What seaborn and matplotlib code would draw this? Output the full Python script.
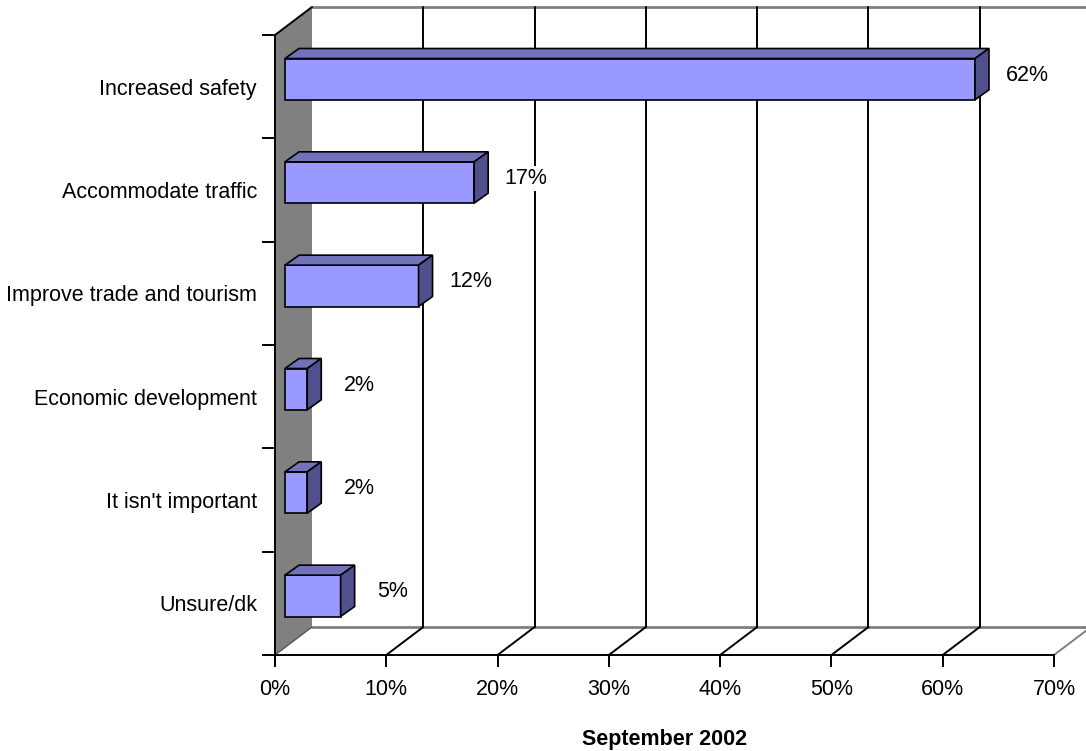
import matplotlib
matplotlib.use("Agg")
import matplotlib.pyplot as plt
import matplotlib.transforms as mtransforms
from matplotlib.patches import Polygon
import pandas as pd
import seaborn as sns

# chart data
categories = ["Increased safety", "Accommodate traffic", "Improve trade and tourism",
              "Economic development", "It isn't important", "Unsure/dk"]
values = [62, 17, 12, 2, 2, 5]
x_ticks = [0, 10, 20, 30, 40, 50, 60, 70]
x_title = "September 2002"

FRONT = "#9999FF"
TOP = "#7272BA"
SIDE = "#50508C"
WALL = "#808080"
FS = 15.5

sns.set_theme(style="white")
plt.rcParams["font.family"] = ["Liberation Sans", "DejaVu Sans"]

fig = plt.figure(figsize=(10.86, 7.51), dpi=100)
fig.patch.set_facecolor("white")
ax = fig.add_axes([275 / 1086, 96 / 751, 779 / 1086, 620 / 751])
ax.set_facecolor("none")

df = pd.DataFrame({"category": categories, "value": values})
sns.barplot(data=df, x="value", y="category", orient="h", color=FRONT,
            saturation=1, width=0.4, edgecolor="black", linewidth=1.2, ax=ax)

ax.set_xlim(0, 70)
ax.set_ylim(len(categories) - 0.5, -0.5)

# pixel -> data conversion for the fake 3d depth
bb = ax.get_window_extent()
kx = bb.width / 70
ky = bb.height / len(categories)
def depth(px, py):
    return px / kx, -py / ky

ymin, ymax = -0.5, len(categories) - 0.5
Dx, Dy = depth(37, 28)

# left wall
wall = Polygon([(0, ymin), (Dx, ymin + Dy), (Dx, ymax + Dy), (0, ymax)],
               closed=True, facecolor=WALL, edgecolor="none", zorder=0.5, clip_on=False)
ax.add_patch(wall)
ax.plot([0, Dx], [ymin, ymin + Dy], color="black", lw=1.4, clip_on=False, zorder=1)
ax.plot([0, Dx], [ymax, ymax + Dy], color="#555555", lw=1.0, clip_on=False, zorder=1)

# back wall edges and grid
ax.plot([Dx, 70 + Dx], [ymin + Dy, ymin + Dy], color=WALL, lw=2.0, clip_on=False, zorder=0.8)
ax.plot([Dx, 70 + Dx], [ymax + Dy, ymax + Dy], color=WALL, lw=2.0, clip_on=False, zorder=0.8)
for t in x_ticks[1:]:
    ax.plot([t + Dx, t + Dx], [ymax + Dy, ymin + Dy], color="black", lw=1.4,
            clip_on=False, zorder=1)
    ax.plot([t, t + Dx], [ymax, ymax + Dy], color="black" if t < 70 else WALL,
            lw=1.4, clip_on=False, zorder=1)

# bars: shift front faces into the depth and add top / side faces
bar_tr = ax.transData + mtransforms.ScaledTranslation(10 / 100, 7.5 / 100, fig.dpi_scale_trans)
dx, dy = depth(14, 10)
bars = [p for p in ax.patches if not isinstance(p, Polygon)]
for p in bars:
    p.set_transform(bar_tr)
    p.set_zorder(4)
    p.set_clip_on(False)
    x0, x1 = p.get_x(), p.get_x() + p.get_width()
    y0, y1 = p.get_y(), p.get_y() + p.get_height()
    top = Polygon([(x0, y0), (x1, y0), (x1 + dx, y0 + dy), (x0 + dx, y0 + dy)],
                  closed=True, facecolor=TOP, edgecolor="black", lw=1.2,
                  transform=bar_tr, zorder=4, clip_on=False)
    side = Polygon([(x1, y0), (x1, y1), (x1 + dx, y1 + dy), (x1 + dx, y0 + dy)],
                   closed=True, facecolor=SIDE, edgecolor="black", lw=1.2,
                   transform=bar_tr, zorder=4, clip_on=False)
    ax.add_patch(top)
    ax.add_patch(side)

# value labels
for i, v in enumerate(values):
    ax.annotate(f"{v}%", xy=(v, i), xycoords=bar_tr, xytext=(52 * 0.72, 4 * 0.72),
                textcoords="offset points", ha="center", va="center", fontsize=FS,
                color="black", zorder=6,
                bbox=dict(boxstyle="square,pad=0.1", facecolor="white", edgecolor="none"))

# axes styling
for s in ["top", "right"]:
    ax.spines[s].set_visible(False)
for s in ["left", "bottom"]:
    ax.spines[s].set_color("black")
    ax.spines[s].set_linewidth(1.4)
    ax.spines[s].set_zorder(2)

ax.set_xticks(x_ticks)
ax.set_xticklabels([f"{t}%" for t in x_ticks])
ax.tick_params(axis="x", direction="out", length=8.6, width=1.4, color="black",
               pad=8.5, labelsize=FS, labelcolor="black", bottom=True)
ax.set_yticks(range(len(categories)))
ax.set_yticklabels(categories)
ax.set_yticks([i - 0.5 for i in range(len(categories) + 1)], minor=True)
ax.tick_params(axis="y", which="major", length=0, pad=13, labelsize=FS, labelcolor="black")
ax.tick_params(axis="y", which="minor", direction="out", length=9.4, width=1.4,
               color="black", left=True)
ax.set_ylabel("")
ax.set_xlabel(x_title, fontsize=FS, fontweight="bold", labelpad=21, color="black")

fig.savefig("out.png", dpi=100)
